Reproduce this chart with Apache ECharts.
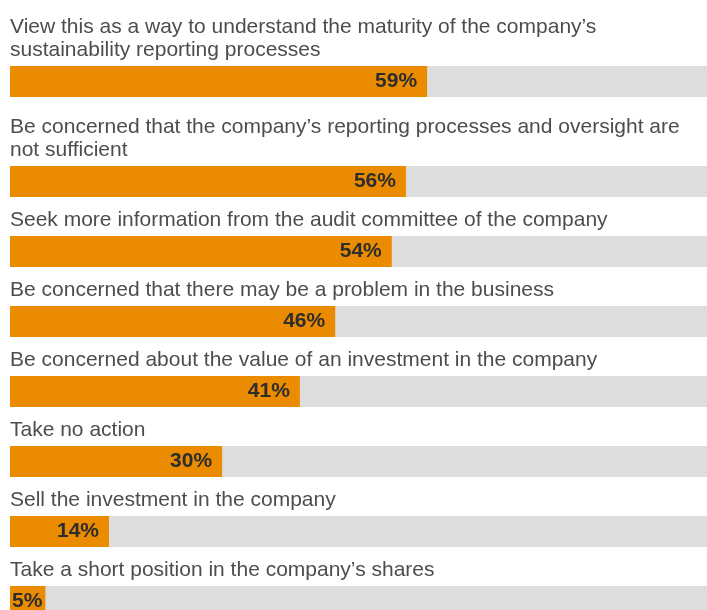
<!DOCTYPE html>
<html>
<head>
<meta charset="utf-8">
<script src="https://cdn.jsdelivr.net/npm/echarts@6/dist/echarts.min.js"></script>
<style>html,body{margin:0;padding:0;background:#fff;}#chart{width:707px;height:610px;}</style>
</head>
<body>
<div id="chart"></div>
<script>
const categories = [
  "View this as a way to understand the maturity of the company\u2019s\nsustainability reporting processes",
  "Be concerned that the company\u2019s reporting processes and oversight are\nnot sufficient",
  "Seek more information from the audit committee of the company",
  "Be concerned that there may be a problem in the business",
  "Be concerned about the value of an investment in the company",
  "Take no action",
  "Sell the investment in the company",
  "Take a short position in the company\u2019s shares"
];
const values = [59, 56, 54, 46, 41, 30, 14, 5];

(function () {
  const FONT = '"Liberation Sans", Arial, Helvetica, sans-serif';
  const barH = 31, firstTop = 66, lineStep = 30, gapAfter = 39, lineH = 23;

  const grids = [], xAxes = [], yAxes = [], series = [], graphics = [];
  let barTop = firstTop;
  categories.forEach((cat, i) => {
    const lines = cat.split('\n').length;
    if (i > 0) barTop = barTop + barH + gapAfter + lineStep * (lines - 1);
    grids.push({ left: 10, width: 707, top: barTop, height: barH, outerBoundsMode: 'none', containLabel: false });
    xAxes.push({ type: 'value', gridIndex: i, min: 0, max: 100, show: false });
    yAxes.push({ type: 'category', gridIndex: i, data: [cat], show: false });
    const small = values[i] < 10;
    series.push({
      type: 'bar', xAxisIndex: i, yAxisIndex: i,
      data: [values[i]], barWidth: barH,
      itemStyle: { color: '#eb8c00' },
      showBackground: true,
      backgroundStyle: { color: '#dddddd' },
      silent: true, animation: false,
      label: {
        show: true,
        position: small ? 'insideLeft' : 'insideRight',
        distance: small ? 2 : 10,
        formatter: '{c}%',
        fontFamily: FONT, fontSize: 21, fontWeight: 'bold', color: '#2d2d2d'
      }
    });
    graphics.push({
      type: 'text', left: 10, top: barTop - 4 - lines * lineH, silent: true,
      style: { text: cat, font: '21px ' + FONT, fill: '#4d4d4d', lineHeight: lineH }
    });
  });

  const chart = echarts.init(document.getElementById('chart'), null, { renderer: 'canvas' });
  chart.setOption({
    animation: false,
    grid: grids, xAxis: xAxes, yAxis: yAxes, series: series,
    graphic: graphics
  });
})();
</script>
</body>
</html>
